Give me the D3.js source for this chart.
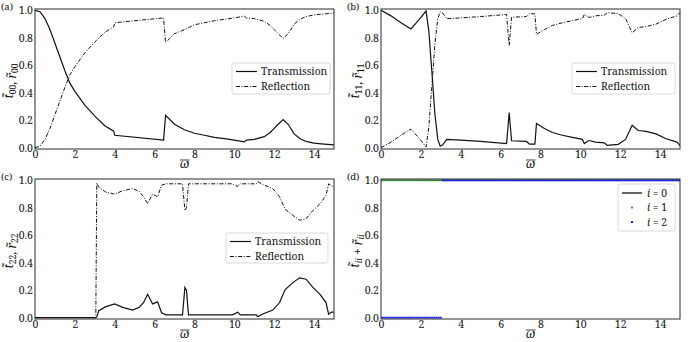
<!DOCTYPE html>
<html>
<head>
<meta charset="utf-8">
<script src="https://cdn.jsdelivr.net/npm/d3@7"></script>
<style>
body { margin: 0; background: #fff; }
svg text { font-family: "Noto Serif", serif; fill: #111; }
</style>
</head>
<body>
<div id="main"></div>
<script>
const ctx = {
    w: 691,
    h: 342
};
const FONT = "'Noto Serif', serif";

// values (omega bar on x, coefficient on y)
const omegaA = [0, 0.25, 0.5, 0.75, 1, 1.25, 1.5, 1.75, 2, 2.5, 3, 3.5, 3.95, 4.0, 6.45, 6.55, 7, 7.5, 8, 8.5, 9, 9.5, 10, 10.5, 10.6, 11, 11.5, 11.8, 12, 12.2, 12.45, 12.7, 13, 13.3, 13.6, 14, 14.5, 15];
const transA = [1.0, 0.99, 0.94, 0.86, 0.76, 0.66, 0.56, 0.47, 0.41, 0.31, 0.23, 0.16, 0.12, 0.09, 0.055, 0.235, 0.17, 0.13, 0.105, 0.09, 0.075, 0.065, 0.055, 0.042, 0.055, 0.06, 0.08, 0.11, 0.14, 0.17, 0.205, 0.17, 0.1, 0.065, 0.045, 0.033, 0.026, 0.02];
const reflA = [0, 0.01, 0.06, 0.14, 0.24, 0.34, 0.44, 0.53, 0.59, 0.69, 0.77, 0.84, 0.88, 0.91, 0.945, 0.765, 0.83, 0.86, 0.895, 0.91, 0.925, 0.935, 0.945, 0.958, 0.945, 0.94, 0.92, 0.89, 0.86, 0.83, 0.795, 0.83, 0.9, 0.935, 0.955, 0.967, 0.974, 0.98];

const omegaB = [0, 0.5, 1.0, 1.5, 1.9, 2.26, 2.4, 2.5, 2.58, 2.7, 2.85, 2.97, 3.1, 3.3, 4, 5, 6.3, 6.43, 6.55, 7.3, 7.45, 7.72, 7.8, 8.2, 8.6, 9.1, 9.6, 10.1, 10.2, 10.4, 10.5, 10.75, 11.2, 11.35, 11.9, 12.27, 12.6, 12.9, 13.3, 13.8, 14.3, 14.85, 15];
const transB = [1.0, 0.96, 0.91, 0.865, 0.93, 0.995, 0.85, 0.65, 0.5, 0.25, 0.06, 0.01, 0.02, 0.06, 0.055, 0.045, 0.03, 0.255, 0.05, 0.045, 0.025, 0.025, 0.175, 0.14, 0.11, 0.09, 0.075, 0.06, 0.03, 0.05, 0.05, 0.04, 0.035, 0.017, 0.024, 0.06, 0.163, 0.125, 0.118, 0.1, 0.065, 0.04, 0.015];
const reflB = [0, 0.04, 0.09, 0.135, 0.07, 0.005, 0.15, 0.35, 0.5, 0.75, 0.94, 0.99, 0.98, 0.94, 0.945, 0.955, 0.97, 0.745, 0.95, 0.955, 0.975, 0.975, 0.825, 0.86, 0.89, 0.91, 0.925, 0.94, 0.97, 0.95, 0.95, 0.96, 0.965, 0.983, 0.976, 0.94, 0.837, 0.875, 0.882, 0.9, 0.935, 0.96, 0.985];

const omegaC = [0, 3.05, 3.1, 3.2, 3.55, 4.0, 4.4, 4.9, 5.23, 5.45, 5.65, 5.9, 6.15, 6.35, 6.57, 7.4, 7.52, 7.6, 7.7, 9.9, 10.17, 10.3, 11.1, 11.18, 11.43, 11.93, 12.27, 12.55, 12.94, 13.27, 13.6, 13.94, 14.3, 14.6, 14.73, 14.87, 15];
const transC = [0, 0, 0.005, 0.05, 0.08, 0.1, 0.075, 0.055, 0.075, 0.11, 0.17, 0.1, 0.115, 0.035, 0.02, 0.02, 0.22, 0.2, 0.02, 0.02, 0.04, 0.02, 0.02, 0.007, 0.027, 0.055, 0.11, 0.205, 0.255, 0.29, 0.28, 0.22, 0.17, 0.11, 0.025, 0.04, 0.04];
const reflC = [0, 0, 0.98, 0.95, 0.915, 0.9, 0.925, 0.94, 0.92, 0.88, 0.83, 0.9, 0.88, 0.965, 0.975, 0.975, 0.78, 0.8, 0.975, 0.975, 0.955, 0.975, 0.975, 0.99, 0.97, 0.94, 0.88, 0.79, 0.745, 0.71, 0.72, 0.78, 0.83, 0.89, 0.975, 0.96, 0.95];

// panel (d): t_ii + r_ii, piecewise levels [from, to, level]
const sum0Segments = [[0, 15, 1.0]];
const sum1Segments = [[0, 15, 1.0]];
const sum2Segments = [[0, 3.0, 0.0], [3.1, 15, 1.0]];
const dotStep = 0.1;

const xTicks = [0, 2, 4, 6, 8, 10, 12, 14];
const yTicks = [0, 0.2, 0.4, 0.6, 0.8, 1.0];
const seriesNames = ["Transmission", "Reflection"];
const sumNames = ["0", "1", "2"];

const panels = [
    {id: "a", left: 35, top: 9, sub: "00", omega: omegaA, t: transA, r: reflA, leg: [232, 63, 98, 31]},
    {id: "b", left: 381, top: 9, sub: "11", omega: omegaB, t: transB, r: reflB, leg: [572, 63, 103, 31]},
    {id: "c", left: 35, top: 179, sub: "22", omega: omegaC, t: transC, r: reflC, leg: [226, 233, 102, 30]},
    {id: "d", left: 381, top: 179, sub: "ii", leg: [618, 184, 57, 47]}
];
const PW = 299, PH = 140;
const DASHDOT = "4,1.6,1,1.6";

function drawPanel(svg, p) {
    const g = svg.append("g");
    const x = d3.scaleLinear().domain([0, 15]).range([p.left, p.left + PW]);
    const y = d3.scaleLinear().domain([-0.01, 1.01]).range([p.top + PH, p.top]);

    // axes
    const xa = g.append("g")
        .attr("transform", `translate(0,${p.top + PH})`)
        .call(d3.axisBottom(x).tickValues(xTicks).tickSize(0).tickPadding(2).tickFormat(d3.format("d")));
    const ya = g.append("g")
        .attr("transform", `translate(${p.left},0)`)
        .call(d3.axisLeft(y).tickValues(yTicks).tickSize(0).tickPadding(2).tickFormat(d3.format(".1f")));
    [xa, ya].forEach(a => {
        a.attr("font-family", null).attr("font-size", null);
        a.select(".domain").remove();
        a.selectAll("text").style("font-family", FONT).style("font-size", "10.5px").attr("fill", "#111");
    });

    const clipId = "clip" + p.id;
    g.append("clipPath").attr("id", clipId).append("rect")
        .attr("x", p.left).attr("y", p.top).attr("width", PW).attr("height", PH);
    const plot = g.append("g").attr("clip-path", `url(#${clipId})`);

    const line = d3.line().x(d => x(d[0])).y(d => y(d[1]));

    if (p.t) {
        plot.append("path").datum(p.omega.map((w, i) => [w, p.r[i]]))
            .attr("d", line).attr("fill", "none").attr("stroke", "#111")
            .attr("stroke-width", 1).attr("stroke-dasharray", DASHDOT);
        plot.append("path").datum(p.omega.map((w, i) => [w, p.t[i]]))
            .attr("d", line).attr("fill", "none").attr("stroke", "#111")
            .attr("stroke-width", 1.2);
    } else {
        const expand = segs => {
            const pts = [];
            segs.forEach(s => {
                d3.range(s[0], s[1] + 1e-6, dotStep).forEach(w => pts.push([w, s[2]]));
            });
            return pts;
        };
        sum0Segments.forEach(s => {
            plot.append("path").datum([[s[0], s[2]], [s[1], s[2]]])
                .attr("d", line).attr("fill", "none").attr("stroke", "#111").attr("stroke-width", 1.3);
        });
        plot.selectAll(".g1").data(expand(sum1Segments)).enter().append("rect")
            .attr("x", d => x(d[0]) - 0.8).attr("y", d => y(d[1]) - 0.8)
            .attr("width", 1.6).attr("height", 1.6).attr("fill", "#3a9c3a");
        plot.selectAll(".g2").data(expand(sum2Segments)).enter().append("rect")
            .attr("x", d => x(d[0]) - 0.9).attr("y", d => y(d[1]) - 0.9)
            .attr("width", 1.8).attr("height", 1.8).attr("fill", "#1a1aff");
    }

    // frame
    g.append("rect").attr("x", p.left).attr("y", p.top).attr("width", PW).attr("height", PH)
        .attr("fill", "none").attr("stroke", "#2a2a2a").attr("stroke-width", 1);

    // panel label
    g.append("text").attr("x", p.left - 34).attr("y", p.top + 1)
        .style("font-size", "9.5px").text(`(${p.id})`);

    // x title: omega with bar
    const cx = p.left + PW / 2;
    g.append("text").attr("x", cx).attr("y", p.top + PH + 19).attr("text-anchor", "middle")
        .style("font-size", "12px").style("font-style", "italic").text("ω");
    g.append("line").attr("x1", cx - 4.5).attr("x2", cx + 5)
        .attr("y1", p.top + PH + 11).attr("y2", p.top + PH + 11)
        .attr("stroke", "#111").attr("stroke-width", 0.8);

    // y title
    const yt = g.append("text")
        .attr("transform", `translate(${p.left - 22},${p.top + PH / 2 + 2}) rotate(-90)`)
        .attr("text-anchor", "middle").style("font-size", "12px");
    const sym = (ch, sub) => {
        yt.append("tspan").style("font-style", "italic").text(ch + "\u0303");
        yt.append("tspan").attr("dy", 2.5).style("font-size", "8.5px")
            .style("font-style", p.id === "d" ? "italic" : "normal").text(sub);
        yt.append("tspan").attr("dy", -2.5).text("");
    };
    sym("t", p.sub);
    yt.append("tspan").text(p.id === "d" ? " + " : ", ");
    sym("r", p.sub);

    // legend
    const [lx, ly, lw, lh] = p.leg;
    const lg = g.append("g");
    lg.append("rect").attr("x", lx).attr("y", ly).attr("width", lw).attr("height", lh)
        .attr("rx", 2).attr("fill", "#fff").attr("fill-opacity", 0.85)
        .attr("stroke", "#d0d0d0").attr("stroke-width", 0.8);
    if (p.t) {
        seriesNames.forEach((name, i) => {
            const ry = ly + 8.5 + i * 15;
            lg.append("line").attr("x1", lx + 4).attr("x2", lx + 25).attr("y1", ry).attr("y2", ry)
                .attr("stroke", "#111").attr("stroke-width", i === 0 ? 1.2 : 1)
                .attr("stroke-dasharray", i === 0 ? null : DASHDOT);
            lg.append("text").attr("x", lx + 29).attr("y", ry + 3.8)
                .style("font-size", "10.3px").text(name);
        });
    } else {
        sumNames.forEach((n, i) => {
            const ry = ly + 9 + i * 14.5;
            if (i === 0) {
                lg.append("line").attr("x1", lx + 4).attr("x2", lx + 24).attr("y1", ry).attr("y2", ry)
                    .attr("stroke", "#111").attr("stroke-width", 1.3);
            } else {
                lg.append("rect").attr("x", lx + 13).attr("y", ry - 1).attr("width", 2).attr("height", 2)
                    .attr("fill", i === 1 ? "#3a9c3a" : "#1a1aff");
            }
            const t = lg.append("text").attr("x", lx + 29).attr("y", ry + 3.8).style("font-size", "10.3px");
            t.append("tspan").style("font-style", "italic").text("i");
            t.append("tspan").text(" = " + n);
        });
    }
}

function createViz() {
    const svgEl = d3.select("#main").append("svg")
        .attr("width", ctx.w).attr("height", ctx.h);
    panels.forEach(p => drawPanel(svgEl, p));
}

createViz();
</script>
</body>
</html>
